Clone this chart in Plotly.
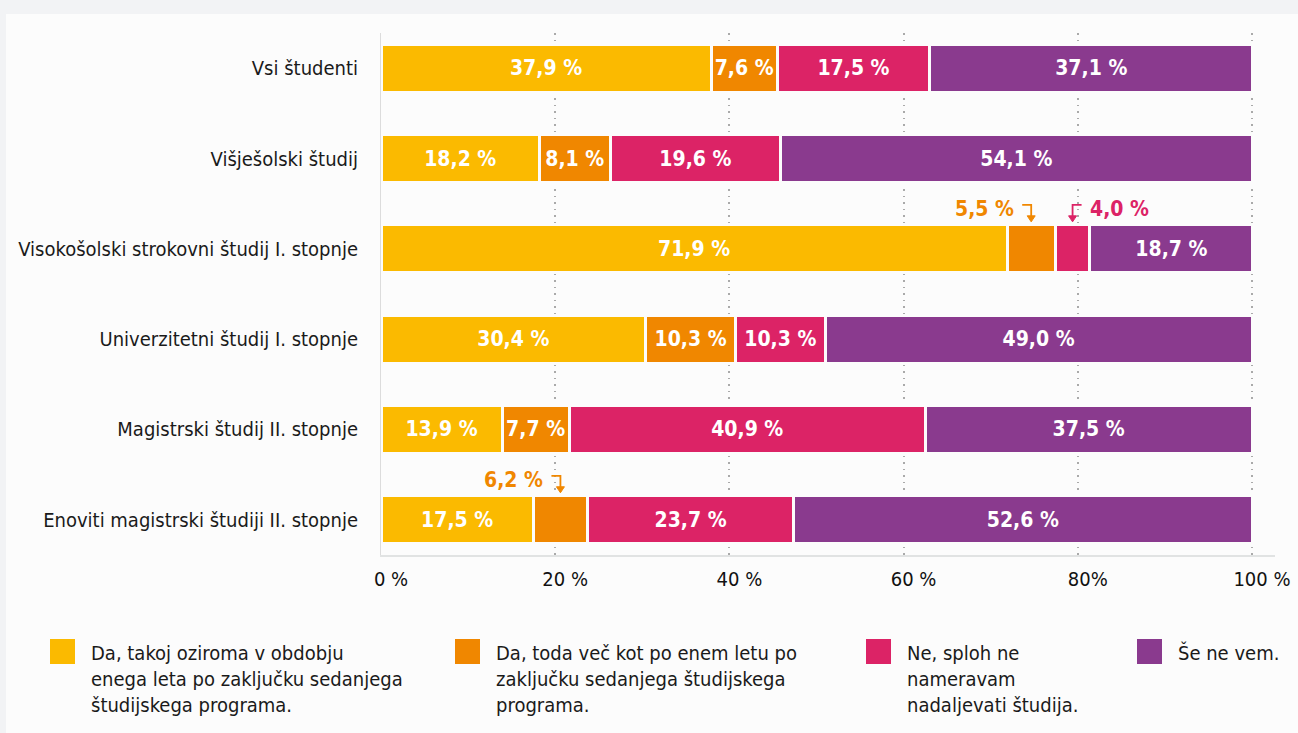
import plotly.graph_objects as go

categories = [
    "Vsi študenti",
    "Višješolski študij",
    "Visokošolski strokovni študij I. stopnje",
    "Univerzitetni študij I. stopnje",
    "Magistrski študij II. stopnje",
    "Enoviti magistrski študiji II. stopnje",
]
da_takoj = [37.9, 18.2, 71.9, 30.4, 13.9, 17.5]
da_kasneje = [7.6, 8.1, 5.5, 10.3, 7.7, 6.2]
ne_nameravam = [17.5, 19.6, 4.0, 10.3, 40.9, 23.7]
ne_vem = [37.1, 54.1, 18.7, 49.0, 37.5, 52.6]

series_names = [
    "Da, takoj oziroma v obdobju<br>enega leta po zaključku sedanjega<br>študijskega programa.",
    "Da, toda več kot po enem letu po<br>zaključku sedanjega študijskega<br>programa.",
    "Ne, sploh ne<br>nameravam<br>nadaljevati študija.",
    "Še ne vem.",
]
series_values = [da_takoj, da_kasneje, ne_nameravam, ne_vem]
colors = ["#FBBA00", "#F08700", "#DC2366", "#8A3A8E"]

tick_vals = [0, 20, 40, 60, 80, 100]
tick_text = ["0 %", "20 %", "40 %", "60 %", "80%", "100 %"]

# which segments get an outside label (too narrow)
outside_threshold = 7.0

FONT = "DejaVu Sans Condensed, Liberation Sans Narrow, sans-serif"
BG = "#fcfcfc"
W, H = 1298, 733
ML, MR, MT, MB = 381, 23, 33, 178
PW, PH = W - ML - MR, H - MT - MB


def fmt(v):
    return f"{v:.1f}".replace(".", ",") + " %"


fig = go.Figure()
for name, vals, col in zip(series_names, series_values, colors):
    texts = [fmt(v) if v >= outside_threshold else "" for v in vals]
    fig.add_trace(go.Bar(
        y=categories, x=vals, orientation="h", name=name,
        marker=dict(color=col, line=dict(color=BG, width=3)),
        width=0.53,
        text=texts, textposition="inside", insidetextanchor="middle",
        textangle=0,
        textfont=dict(family=FONT, size=21, color="white", weight="bold"),
        hoverinfo="skip", showlegend=False,
    ))

annotations = []
shapes = []

# card background
shapes.append(dict(
    type="rect", xref="paper", yref="paper", layer="below",
    x0=(6 - ML) / PW, x1=(W + 10 - ML) / PW,
    y0=(MT + PH - H - 10) / PH, y1=(MT + PH - 14) / PH,
    fillcolor=BG, line=dict(width=0),
))

# outside labels with bent arrows for narrow segments
for si, vals in enumerate(series_values):
    for ci, v in enumerate(vals):
        if v >= outside_threshold:
            continue
        start = sum(series_values[k][ci] for k in range(si))
        cx = start + v / 2
        col = colors[si]
        prev_narrow = any(series_values[k][ci] < outside_threshold for k in range(si))
        side = 1 if prev_narrow else -1
        annotations.append(dict(
            x=cx, y=ci, xref="x", yref="y", text=fmt(v), showarrow=False,
            xanchor="left" if side > 0 else "right", yanchor="middle",
            xshift=15 * side, yshift=40,
            font=dict(family=FONT, size=21, color=col, weight="bold"),
        ))
        hx = 9 * side
        shapes.append(dict(
            type="path", xref="x", yref="y", xsizemode="pixel", ysizemode="pixel",
            xanchor=cx, yanchor=ci,
            path=f"M {hx},44 L 0,44 L 0,31",
            line=dict(color=col, width=1.8),
        ))
        shapes.append(dict(
            type="path", xref="x", yref="y", xsizemode="pixel", ysizemode="pixel",
            xanchor=cx, yanchor=ci,
            path="M -4,33 L 4,33 L 0,27 Z",
            fillcolor=col, line=dict(color=col, width=1),
        ))

# legend
legend_px = [50, 455, 866, 1137]
for name, col, px in zip(series_names, colors, legend_px):
    x0 = (px - ML) / PW
    x1 = (px + 25 - ML) / PW
    y0 = (MT + PH - 664) / PH
    y1 = (MT + PH - 639) / PH
    shapes.append(dict(type="rect", xref="paper", yref="paper",
                       x0=x0, x1=x1, y0=y0, y1=y1,
                       fillcolor=col, line=dict(width=0)))
    annotations.append(dict(
        x=(px + 39 - ML) / PW, y=(MT + PH - 639) / PH, xref="paper", yref="paper",
        text=name, showarrow=False, xanchor="left", yanchor="top", align="left",
        font=dict(family=FONT, size=20, color="#1a1a1a"),
    ))

fig.update_layout(
    width=W, height=H,
    margin=dict(l=ML, r=MR, t=MT, b=MB),
    barmode="stack",
    paper_bgcolor="#f2f3f5",
    plot_bgcolor=BG,
    font=dict(family=FONT, color="#1a1a1a"),
    annotations=annotations,
    shapes=shapes,
    xaxis=dict(
        range=[0, PW / 8.71], tickvals=tick_vals, ticktext=tick_text,
        showgrid=True, gridcolor="#aaaaaa", griddash="1.5px,5px", gridwidth=1.5,
        zeroline=False, showline=True, linecolor="#e1e3e3", linewidth=2,
        tickfont=dict(family=FONT, size=20, color="#111111"),
        ticklabelshift=10, ticklabelstandoff=5, fixedrange=True,
        automargin=False,
    ),
    yaxis=dict(
        type="category", categoryorder="array", categoryarray=categories,
        range=[5.39, -0.39], showgrid=False, zeroline=False,
        showline=True, linecolor="#dcdcdc", linewidth=1,
        tickfont=dict(family=FONT, size=20, color="#1a1a1a"),
        ticklabelstandoff=18, fixedrange=True, automargin=False,
    ),
    showlegend=False,
)

fig.write_html(
    "out.html",
    config={"displayModeBar": False},
    post_script="document.body.style.margin='0';document.body.style.background='#f2f3f5';",
)
